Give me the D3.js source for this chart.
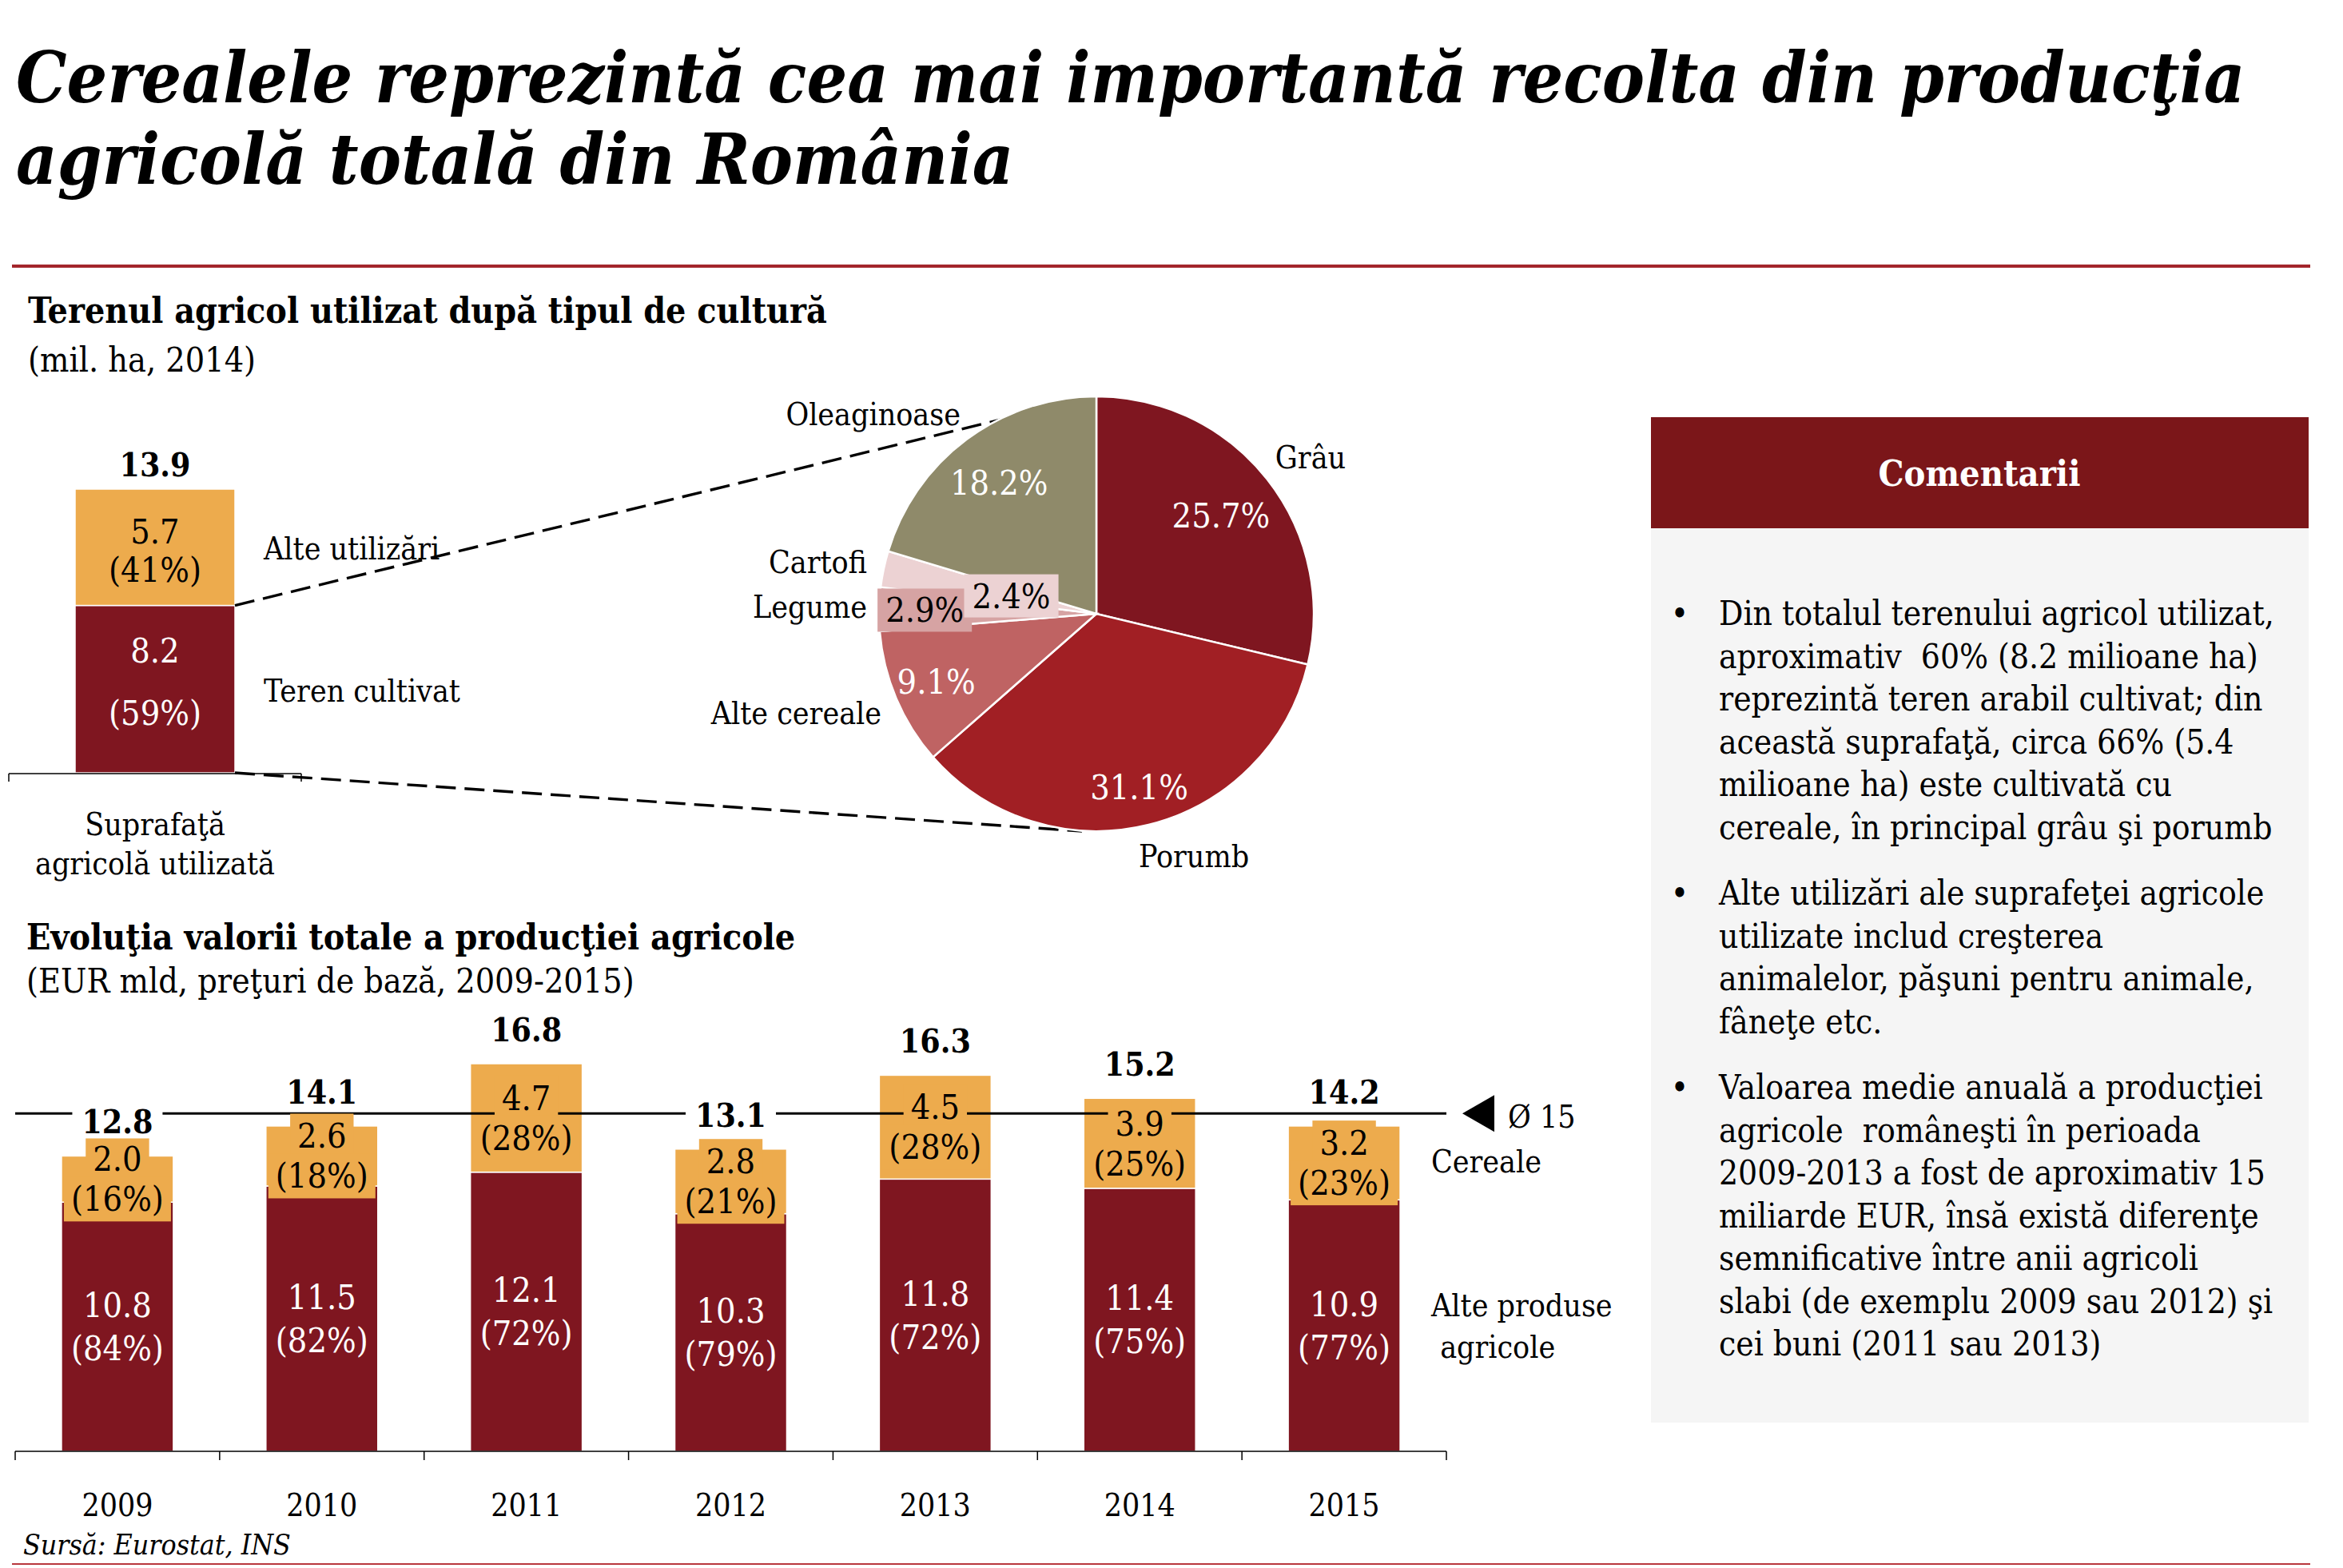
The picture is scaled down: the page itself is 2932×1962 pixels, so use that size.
<!DOCTYPE html>
<html>
<head>
<meta charset="utf-8">
<script src="https://cdn.jsdelivr.net/npm/d3@7"></script>
<style>
  html, body { margin: 0; padding: 0; background: #ffffff; }
  svg { display: block; }
</style>
</head>
<body>
<script>
// ---------------- DATA ----------------
const titleLines = ["Cerealele reprezintă cea mai importantă recolta din producţia", "agricolă totală din România"];

const landTitle = "Terenul agricol utilizat după tipul de cultură";
const landSubtitle = "(mil. ha, 2014)";
const landCategory = ["Suprafaţă", "agricolă utilizată"];
const landSegments = ["Teren cultivat", "Alte utilizări"];
const landValues = [8.2, 5.7];
const landShares = ["(59%)", "(41%)"];
const landTotal = 13.9;

const cropNames = ["Grâu", "Porumb", "Alte cereale", "Legume", "Cartofi", "Oleaginoase"];
const cropShares = [25.7, 31.1, 9.1, 2.9, 2.4, 18.2];

const prodTitle = "Evoluţia valorii totale a producţiei agricole";
const prodSubtitle = "(EUR mld, preţuri de bază, 2009-2015)";
const years = ["2009", "2010", "2011", "2012", "2013", "2014", "2015"];
const otherProducts = [10.8, 11.5, 12.1, 10.3, 11.8, 11.4, 10.9];
const otherPct = [84, 82, 72, 79, 72, 75, 77];
const cereals = [2.0, 2.6, 4.7, 2.8, 4.5, 3.9, 3.2];
const cerealPct = [16, 18, 28, 21, 28, 25, 23];
const totals = [12.8, 14.1, 16.8, 13.1, 16.3, 15.2, 14.2];
const avgLabel = "Ø 15";
const seriesNames = ["Cereale", ["Alte produse", " agricole"]];
const sourceText = "Sursă: Eurostat, INS";

const commentTitle = "Comentarii";
const comments = [
  ["Din totalul terenului agricol utilizat,",
   "aproximativ  60% (8.2 milioane ha)",
   "reprezintă teren arabil cultivat; din",
   "această suprafaţă, circa 66% (5.4",
   "milioane ha) este cultivată cu",
   "cereale, în principal grâu şi porumb"],
  ["Alte utilizări ale suprafeţei agricole",
   "utilizate includ creşterea",
   "animalelor, păşuni pentru animale,",
   "fâneţe etc."],
  ["Valoarea medie anuală a producţiei",
   "agricole  româneşti în perioada",
   "2009-2013 a fost de aproximativ 15",
   "miliarde EUR, însă există diferenţe",
   "semnificative între anii agricoli",
   "slabi (de exemplu 2009 sau 2012) şi",
   "cei buni (2011 sau 2013)"]
];

// ---------------- STYLE ----------------
const W = 2932, H = 1962;
const FONT = "'DejaVu Serif', Georgia, serif";
const STRETCH = "semi-condensed";
const C_DARK = "#7f1620", C_ORANGE = "#edab4d";
const pieColors = ["#7f1620", "#a11f24", "#bf6363", "#d6a3a3", "#ecd2d3", "#8f8a6a"];
const pieTextColors = ["#fff", "#fff", "#fff", "#000", "#000", "#fff"];

const svg = d3.select("body").append("svg").attr("width", W).attr("height", H)
  .style("font-family", FONT).style("font-stretch", STRETCH);

function measure(txt, size, weight, style) {
  const t = svg.append("text").attr("font-size", size)
    .attr("font-weight", weight || "normal").attr("font-style", style || "normal").text(txt);
  const w = t.node().getComputedTextLength();
  t.remove();
  return w;
}
function fit(txt, width, weight, style) { return 100 * width / measure(txt, 100, weight, style); }
function txt(g, s, x, y, size, opts = {}) {
  return g.append("text").attr("x", x).attr("y", y).attr("font-size", size)
    .attr("font-weight", opts.weight || "normal").attr("font-style", opts.style || "normal")
    .attr("text-anchor", opts.anchor || "start")
    .attr("dominant-baseline", opts.baseline || "auto")
    .attr("fill", opts.fill || "#000").text(s);
}

const titleSize = fit(titleLines[0], 2790, "bold", "italic");
const secSize = fit(landTitle, 1000, "bold");
const subSize = fit(prodSubtitle, 761);
const labelSize = fit("Teren cultivat", 246);
const numSize = fit("(84%)", 116);
const boldSize = fit("12.8", 89, "bold");
const yearSize = fit("2009", 89);
const commentSize = fit(comments[0][0], 695);
const headSize = fit(commentTitle, 253, "bold");
const srcSize = fit(sourceText, 335, "normal", "italic");

// ---------------- HEADER ----------------
txt(svg, titleLines[0], 20, 128, titleSize, { weight: "bold", style: "italic" });
txt(svg, titleLines[1], 20, 230, titleSize, { weight: "bold", style: "italic" });
svg.append("rect").attr("x", 15).attr("y", 331).attr("width", 2876).attr("height", 4).attr("fill", "#a3262b");

// ---------------- SECTION 1: land use bar ----------------
txt(svg, landTitle, 35, 404, secSize, { weight: "bold" });
txt(svg, landSubtitle, 35, 465, subSize);

const gL = svg.append("g");
const xL = d3.scaleBand().domain([landCategory.join(" ")]).range([11, 377]).paddingOuter(0.415);
const yL = d3.scaleLinear().domain([0, landTotal]).range([967, 612]);
let acc = 0;
const landStack = landValues.map((v, i) => { const s = { i, y0: acc, y1: acc + v, v }; acc += v; return s; });
const bx = xL(xL.domain()[0]), bw = xL.bandwidth();
const landOff = [[-48, 30], [-20, 28]];

// dashed connectors (behind)
const cx = 1372, cy = 768, R = 272;
const dash = svg.append("g").attr("stroke", "#000").attr("stroke-width", 3.4).attr("stroke-dasharray", "25,11").attr("fill", "none");
dash.append("line").attr("x1", bx + bw).attr("y1", yL(landValues[0])).attr("x2", cx).attr("y2", cy - R);
dash.append("line").attr("x1", bx + bw).attr("y1", yL(0)).attr("x2", cx - 18).attr("y2", cy + R);

gL.selectAll("rect.seg").data(landStack).join("rect").attr("class", "seg")
  .attr("x", bx).attr("width", bw)
  .attr("y", d => yL(d.y1)).attr("height", d => yL(d.y0) - yL(d.y1))
  .attr("fill", d => d.i === 0 ? C_DARK : C_ORANGE)
  .attr("stroke", "#fff").attr("stroke-width", 1.5);

landStack.forEach(d => {
  const mid = (yL(d.y0) + yL(d.y1)) / 2;
  const col = d.i === 0 ? "#fff" : "#000";
  txt(gL, d3.format(".1f")(d.v), bx + bw / 2, mid + landOff[d.i][0], numSize, { anchor: "middle", baseline: "central", fill: col });
  txt(gL, landShares[d.i], bx + bw / 2, mid + landOff[d.i][1], numSize, { anchor: "middle", baseline: "central", fill: col });
  txt(gL, landSegments[d.i], bx + bw + 36, mid + 2, labelSize, { baseline: "central" });
});
txt(gL, d3.format(".1f")(landTotal), bx + bw / 2, yL(landTotal) - 30, boldSize, { anchor: "middle", baseline: "central", weight: "bold" });

// axis
const axL = gL.append("g").attr("stroke", "#000").attr("stroke-width", 1.5);
axL.append("line").attr("x1", xL.range()[0]).attr("x2", xL.range()[1]).attr("y1", yL(0) + 1).attr("y2", yL(0) + 1);
xL.range().forEach(x => axL.append("line").attr("x1", x).attr("x2", x).attr("y1", yL(0) + 1).attr("y2", yL(0) + 11));
txt(gL, landCategory[0], bx + bw / 2, 1031, labelSize, { anchor: "middle", baseline: "central" });
txt(gL, landCategory[1], bx + bw / 2, 1080, labelSize, { anchor: "middle", baseline: "central" });

// ---------------- PIE ----------------
const gP = svg.append("g").attr("transform", `translate(${cx},${cy})`);
const pie = d3.pie().sort(null).startAngle(0).endAngle(2 * Math.PI);
const arcs = pie(cropShares);
const arc = d3.arc().innerRadius(0).outerRadius(R);
gP.selectAll("path").data(arcs).join("path").attr("d", arc)
  .attr("fill", (d, i) => pieColors[i]).attr("stroke", "#fff").attr("stroke-width", 2.5);

const inRad = [0.73, 0.82, 0.8, 0.79, 0.4, 0.75];
const boxed = [false, false, false, true, true, false];
arcs.forEach((a, i) => {
  const ang = (a.startAngle + a.endAngle) / 2;
  const x = Math.sin(ang) * R * inRad[i], y = -Math.cos(ang) * R * inRad[i];
  const label = d3.format(".1f")(cropShares[i]) + "%";
  if (boxed[i]) {
    const w = measure(label, numSize) + 20;
    gP.append("rect").attr("x", x - w / 2).attr("y", y - 27).attr("width", w).attr("height", 54).attr("fill", pieColors[i]);
  }
  txt(gP, label, x, y, numSize, { anchor: "middle", baseline: "central", fill: pieTextColors[i] });
});
const outPos = [[268, -196, "middle"], [122, 303, "middle"], [-269, 124, "end"], [-287, -9, "end"], [-287, -65, "end"], [-170, -250, "end"]];
cropNames.forEach((n, i) => {
  txt(gP, n, outPos[i][0], outPos[i][1], labelSize, { anchor: outPos[i][2], baseline: "central" });
});

// ---------------- COMMENTS ----------------
const gC = svg.append("g");
gC.append("rect").attr("x", 2066).attr("y", 661).attr("width", 823).attr("height", 1119).attr("fill", "#f5f5f5");
gC.append("rect").attr("x", 2066).attr("y", 522).attr("width", 823).attr("height", 139).attr("fill", "#7b1619");
txt(gC, commentTitle, 2477, 608, headSize, { anchor: "middle", weight: "bold", fill: "#fff" });
let by = 782;
comments.forEach(par => {
  txt(gC, "•", 2102, by, commentSize, { anchor: "middle" });
  par.forEach((line, j) => { txt(gC, line, 2151, by + j * 53.5, commentSize).attr("xml:space", "preserve").style("white-space", "pre"); });
  by += (par.length - 1) * 53.5 + 82.5;
});

// ---------------- SECTION 2: production bars ----------------
txt(svg, prodTitle, 33, 1188, secSize, { weight: "bold" });
txt(svg, prodSubtitle, 33, 1242, subSize);

const gB = svg.append("g");
const x = d3.scaleBand().domain(years).range([19, 1810]).paddingInner(0.453).paddingOuter(0.2265);
const y = d3.scaleLinear().domain([0, 17]).range([1816, 1816 - 17 * 28.87]);
const rows = years.map((yr, i) => ({ yr, i, a: otherProducts[i], b: cereals[i] }));
const stack = d3.stack().keys(["a", "b"])(rows);

stack.forEach((layer, k) => {
  gB.selectAll(null).data(layer).join("rect")
    .attr("x", d => x(d.data.yr)).attr("width", x.bandwidth())
    .attr("y", d => y(d[1])).attr("height", d => y(d[0]) - y(d[1]))
    .attr("fill", k === 0 ? C_DARK : C_ORANGE)
    .attr("stroke", "#fff").attr("stroke-width", 1.5);
});

// average line
const avg = d3.mean(totals);
gB.append("line").attr("x1", x.range()[0]).attr("x2", x.range()[1]).attr("y1", y(avg)).attr("y2", y(avg))
  .attr("stroke", "#000").attr("stroke-width", 3);
gB.append("path").attr("d", `M${x.range()[1] + 20},${y(avg)} L${x.range()[1] + 60},${y(avg) - 23} L${x.range()[1] + 60},${y(avg) + 23} Z`).attr("fill", "#000");
txt(gB, avgLabel, x.range()[1] + 77, y(avg) + 4, labelSize, { baseline: "central" });

// labels
const lblG = gB.append("g");
rows.forEach(r => {
  const cxB = x(r.yr) + x.bandwidth() / 2;
  // cereals (orange)
  const midO = (y(r.a) + y(r.a + r.b)) / 2;
  [[d3.format(".1f")(r.b), -25], ["(" + cerealPct[r.i] + "%)", 25]].forEach(([s, dy]) => {
    const w = measure(s, numSize) + 18;
    lblG.append("rect").attr("x", cxB - w / 2).attr("y", midO + dy - 28).attr("width", w).attr("height", 56).attr("fill", C_ORANGE);
  });
  txt(lblG, d3.format(".1f")(r.b), cxB, midO - 25, numSize, { anchor: "middle", baseline: "central" });
  txt(lblG, "(" + cerealPct[r.i] + "%)", cxB, midO + 25, numSize, { anchor: "middle", baseline: "central" });
  // other products (dark)
  const midD = (y(0) + y(r.a)) / 2;
  txt(lblG, d3.format(".1f")(r.a), cxB, midD - 27, numSize, { anchor: "middle", baseline: "central", fill: "#fff" });
  txt(lblG, "(" + otherPct[r.i] + "%)", cxB, midD + 27, numSize, { anchor: "middle", baseline: "central", fill: "#fff" });
  // totals
  const tS = d3.format(".1f")(totals[r.i]);
  const tw = measure(tS, boldSize, "bold") + 24;
  const ty = y(r.a + r.b) - 42;
  lblG.append("rect").attr("x", cxB - tw / 2).attr("y", ty - 20).attr("width", tw).attr("height", 40).attr("fill", "#fff");
  txt(lblG, tS, cxB, ty, boldSize, { anchor: "middle", baseline: "central", weight: "bold" });
});

// axis
const axB = gB.append("g").attr("stroke", "#000").attr("stroke-width", 1.5);
axB.append("line").attr("x1", x.range()[0]).attr("x2", x.range()[1]).attr("y1", y(0)).attr("y2", y(0));
d3.range(years.length + 1).forEach(k => {
  const xx = x.range()[0] + k * x.step();
  axB.append("line").attr("x1", xx).attr("x2", xx).attr("y1", y(0)).attr("y2", y(0) + 11);
});
years.forEach(yr => txt(gB, yr, x(yr) + x.bandwidth() / 2, 1883, yearSize, { anchor: "middle", baseline: "central" }));

// series labels
txt(gB, seriesNames[0], 1791, 1453, labelSize, { baseline: "central" });
txt(gB, seriesNames[1][0], 1791, 1633, labelSize, { baseline: "central" });
txt(gB, seriesNames[1][1], 1791, 1685, labelSize, { baseline: "central" }).style("white-space", "pre");

// ---------------- FOOTER ----------------
txt(svg, sourceText, 29, 1945, srcSize, { style: "italic" });
svg.append("rect").attr("x", 15).attr("y", 1956).attr("width", 2876).attr("height", 2).attr("fill", "#b8373d");
</script>
</body>
</html>
